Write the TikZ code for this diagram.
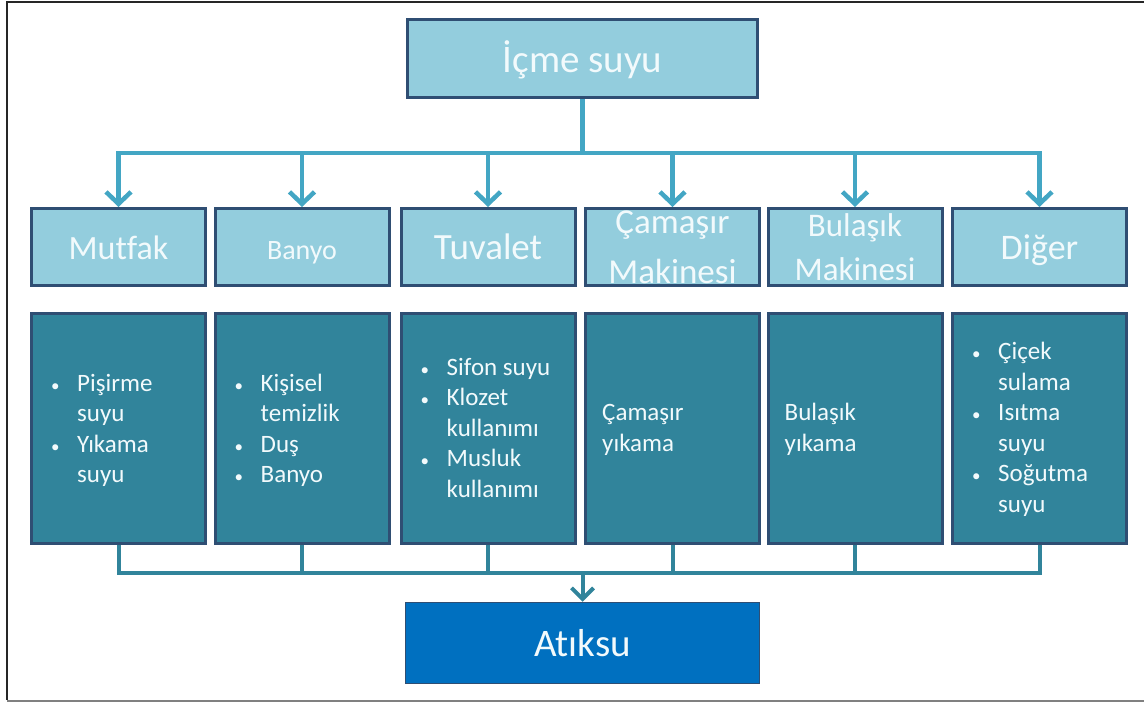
\documentclass[tikz,border=0pt]{standalone}
\usepackage{fontspec}
\setmainfont[Ligatures=NoCommon]{Carlito}
\usetikzlibrary{arrows.meta}
\definecolor{lightfill}{HTML}{93CDDD}
\definecolor{darkfill}{HTML}{31849B}
\definecolor{wastefill}{HTML}{0070C0}
\definecolor{edge}{HTML}{2F4E73}
\definecolor{feedcol}{HTML}{43A6C4}
\definecolor{draincol}{HTML}{31849B}
\definecolor{paletext}{HTML}{F2FAFC}
\tikzset{
  hbox/.style={draw=edge, line width=3pt, fill=lightfill, minimum width=174pt,
    minimum height=77pt, inner sep=0pt, text=paletext, align=center},
  oneline/.style={text height=26pt, text depth=0pt},
  dbox/.style={draw=edge, line width=3pt, fill=darkfill, minimum width=174pt,
    minimum height=230pt, inner sep=0pt},
  items/.style={anchor=west, inner sep=0pt, text=paletext,
    font=\fontsize{25}{30.5}\selectfont},
  feed/.style={draw=feedcol, line width=4.5pt},
  drain/.style={draw=draincol, line width=4pt},
  tipfeed/.style={-{Straight Barb[length=12pt,width=25pt]}},
  tipdrain/.style={-{Straight Barb[length=11pt,width=22pt]}},
}
\newcommand{\bul}{{\fontsize{17}{17}\selectfont\textbullet}}
\begin{document}
\begin{tikzpicture}[x=1pt,y=-1pt]
\useasboundingbox (0,0) rectangle (1144,703);
% page frame
\draw[black!85, line width=2pt] (1144,2) -- (7,2) -- (7,700);
\draw[black!50, line width=2pt] (7,701) -- (1144,701);

% source
\node[hbox, minimum width=350pt, minimum height=78pt, oneline,
  font=\fontsize{39}{46}\selectfont, text height=28pt] (src) at (582.5,58.5) {İçme suyu};

% usage headers
\node[hbox, oneline, font=\fontsize{34}{40}\selectfont] (h1) at (118.5,247) {Mutfak};
\node[hbox, oneline, font=\fontsize{28}{34}\selectfont] (h2) at (302,247) {Banyo};
\node[hbox, oneline, font=\fontsize{37}{44}\selectfont] (h3) at (488,247) {Tuvalet};
\node[hbox, font=\fontsize{35}{50}\selectfont] (h4) at (672.5,247) {Çamaşır\\Makinesi};
\node[hbox, font=\fontsize{33}{44}\selectfont] (h5) at (855,247) {Bulaşık\\Makinesi};
\node[hbox, oneline, font=\fontsize{36}{42}\selectfont] (h6) at (1039.5,247) {Diğer};

% detail boxes
\node[dbox] (d1) at (118.5,428.5) {};
\node[dbox] (d2) at (302,428.5) {};
\node[dbox] (d3) at (488,428.5) {};
\node[dbox] (d4) at (672.5,428.5) {};
\node[dbox] (d5) at (855,428.5) {};
\node[dbox] (d6) at (1039.5,428.5) {};

\node[items] (t1) at ([xshift=21pt,yshift=-2.5pt]d1.west)
  {\begin{tabular}{@{}p{26pt}@{}l@{}}\bul & Pişirme\\ & suyu\\ \bul & Yıkama\\ & suyu\end{tabular}};
\node[items] (t2) at ([xshift=21pt,yshift=-2.5pt]d2.west)
  {\begin{tabular}{@{}p{26pt}@{}l@{}}\bul & Kişisel\\ & temizlik\\ \bul & Duş\\ \bul & Banyo\end{tabular}};
\node[items] (t3) at ([xshift=21pt,yshift=-1.5pt]d3.west)
  {\begin{tabular}{@{}p{26pt}@{}l@{}}\bul & Sifon suyu\\ \bul & Klozet\\ & kullanımı\\ \bul & Musluk\\ & kullanımı\end{tabular}};
\node[items] (t4) at ([xshift=18pt,yshift=-1.5pt]d4.west)
  {\begin{tabular}{@{}l@{}}Çamaşır\\ yıkama\end{tabular}};
\node[items] (t5) at ([xshift=18pt,yshift=-1.5pt]d5.west)
  {\begin{tabular}{@{}l@{}}Bulaşık\\ yıkama\end{tabular}};
\node[items] (t6) at ([xshift=21pt,yshift=-1.5pt]d6.west)
  {\begin{tabular}{@{}p{26pt}@{}l@{}}\bul & Çiçek\\ & sulama\\ \bul & Isıtma\\ & suyu\\ \bul & Soğutma\\ & suyu\end{tabular}};

% waste water
\node[draw=edge, line width=1.5pt, fill=wastefill, minimum width=354pt, minimum height=81pt,
  inner sep=0pt, text=paletext, font=\fontsize{39}{46}\selectfont,
  text height=27pt, text depth=0pt] (out) at (582.5,643) {Atıksu};

% supply distribution
\coordinate (bus) at (582.5,153);
\draw[feed] (src.south) -- (bus);
\draw[feed, line cap=rect] (h1.north |- bus) -- (h6.north |- bus);
\foreach \h in {h1,h2,h3,h4,h5,h6}
  \draw[feed, tipfeed] (\h.north |- bus) -- (\h.north);

% drainage collection
\coordinate (col) at (582.5,573);
\foreach \d in {d1,d2,d3,d4,d5,d6}
  \draw[drain] (\d.south) -- (\d.south |- col);
\draw[drain, line cap=rect] (d1.south |- col) -- (d6.south |- col);
\draw[drain, tipdrain] (col) -- (out.north);
\end{tikzpicture}
\end{document}
